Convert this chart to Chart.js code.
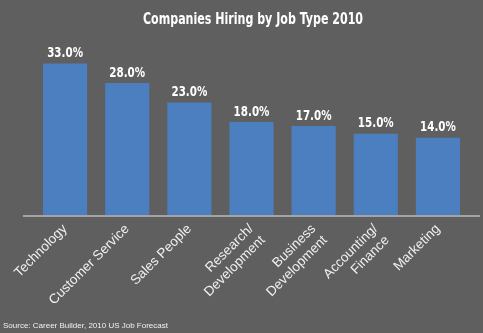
<!DOCTYPE html>
<html>
<head>
<meta charset="utf-8">
<script src="https://cdn.jsdelivr.net/npm/chart.js@4/dist/chart.umd.min.js"></script>
<style>
  html, body { margin: 0; padding: 0; background: #5f5f5f; }
  #wrap { width: 483px; height: 333px; position: relative; }
</style>
</head>
<body>
<div id="wrap"><canvas id="chartEmpleos"></canvas></div>
<script>
// Companies Hiring by Job Type 2010
const categorias = ['Technology', 'Customer Service', 'Sales People', ['Research/', 'Development'], ['Business', 'Development'], ['Accounting/', 'Finance'], 'Marketing'];
const porcentajes = [33.0, 28.0, 23.0, 18.0, 17.0, 15.0, 14.0];
const titulo = 'Companies Hiring by Job Type 2010';
const fuente = 'Source: Career Builder, 2010 US Job Forecast';

const fuenteAngosta = "'DejaVu Sans Condensed', 'DejaVu Sans', sans-serif";
const Y_MIN = -5.85;
const Y_MAX = 39.05;

// texto angosto (escala horizontal)
function textoAngosto(ctx, txt, x, y, escala) {
    ctx.save();
    ctx.translate(x, y);
    ctx.scale(escala, 1);
    ctx.fillText(txt, 0, 0);
    ctx.restore();
}

// textos extra: titulo, valores, fuente y linea base
const extras = {
    id: 'extras',
    afterDatasetsDraw(chart) {
        const ctx = chart.ctx;
        const area = chart.chartArea;
        ctx.save();
        // linea base
        ctx.strokeStyle = '#a3a3a3';
        ctx.lineWidth = 2;
        ctx.beginPath();
        ctx.moveTo(area.left - 11, area.bottom + 1);
        ctx.lineTo(area.right + 11, area.bottom + 1);
        ctx.stroke();

        // valores sobre las barras
        ctx.fillStyle = '#ffffff';
        ctx.font = 'bold 14px ' + fuenteAngosta;
        ctx.textAlign = 'center';
        ctx.textBaseline = 'bottom';
        chart.getDatasetMeta(0).data.forEach((bar, i) => {
            textoAngosto(ctx, porcentajes[i].toFixed(1) + '%', bar.x, bar.y - 3, 0.82);
        });

        // titulo
        ctx.font = 'bold 15px ' + fuenteAngosta;
        textoAngosto(ctx, titulo, 253, 28, 0.82);

        // fuente
        ctx.fillStyle = '#f2f2f2';
        ctx.font = '8px Liberation Sans, sans-serif';
        ctx.textAlign = 'left';
        ctx.textBaseline = 'alphabetic';
        ctx.fillText(fuente, 3, 328);
        ctx.restore();
    }
};

new Chart(document.getElementById('chartEmpleos'), {
    type: 'bar',
    data: {
        labels: categorias,
        datasets: [{
            data: porcentajes,
            base: Y_MIN,
            backgroundColor: '#4b7fc0',
            borderWidth: 0,
            barPercentage: 0.71,
            categoryPercentage: 1.0
        }]
    },
    options: {
        responsive: true,
        maintainAspectRatio: false,
        animation: false,
        layout: { padding: { top: 40, left: 34, right: 14, bottom: 0 } },
        plugins: {
            legend: { display: false },
            tooltip: { enabled: false }
        },
        scales: {
            x: {
                grid: { display: false },
                border: { display: false },
                ticks: {
                    color: '#f0f0f0',
                    font: { family: "'Liberation Sans', Arial, sans-serif", size: 13.5 },
                    minRotation: 45,
                    maxRotation: 45,
                    padding: -2,
                    autoSkip: false
                },
                afterFit(scale) { scale.height = 118; }
            },
            y: {
                display: false,
                min: Y_MIN,
                max: Y_MAX
            }
        }
    },
    plugins: [extras]
});
</script>
</body>
</html>
